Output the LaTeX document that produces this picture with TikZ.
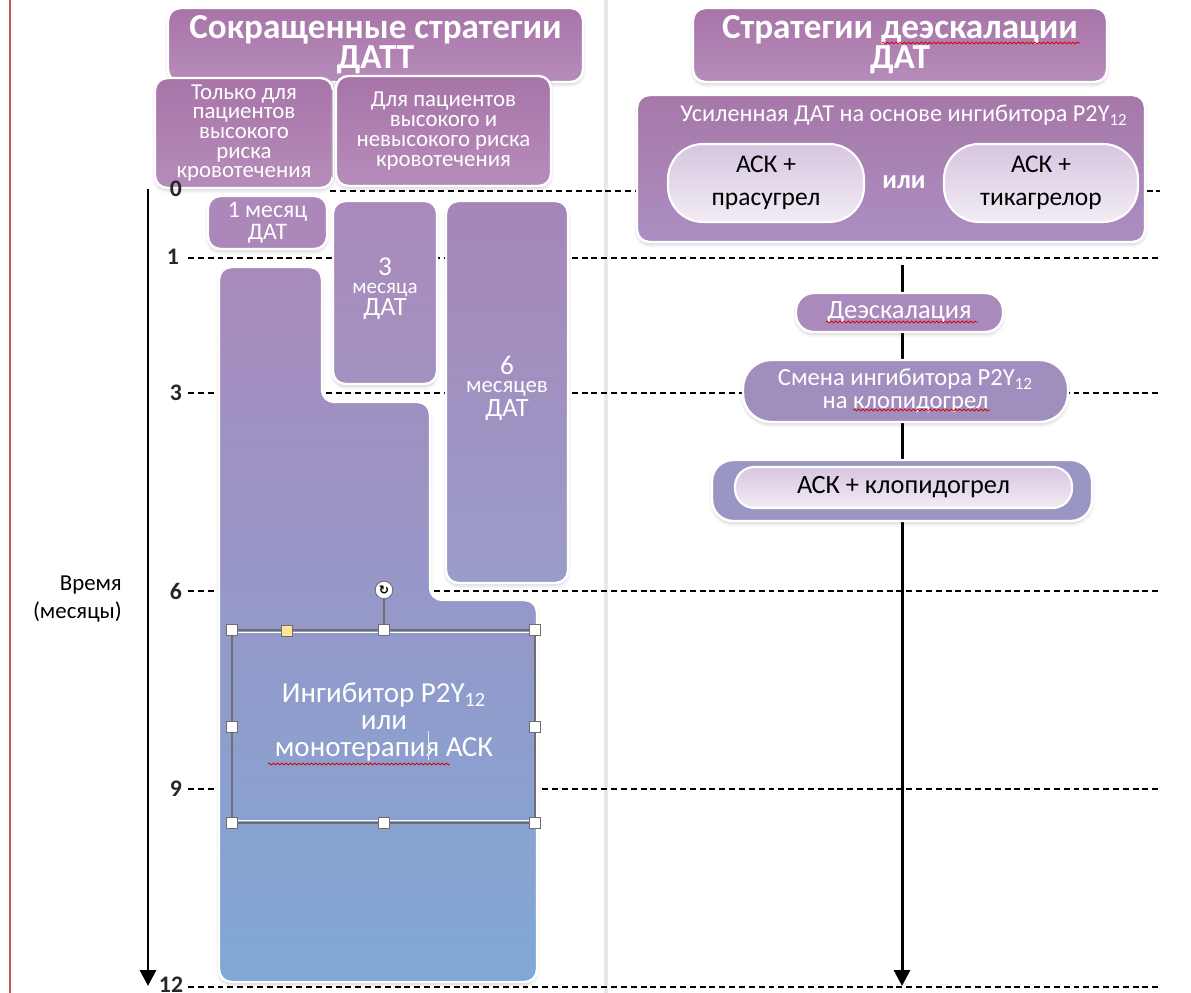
\documentclass[tikz,border=0pt]{standalone}
\usepackage{fontspec}
\setmainfont{Carlito}
\newfontfamily\dejavu{DejaVu Sans}
\usetikzlibrary{arrows.meta,shadows.blur,decorations.pathmorphing}
\definecolor{titA}{RGB}{168,116,168}
\definecolor{titB}{RGB}{182,140,186}
\definecolor{usA}{RGB}{166,120,168}
\definecolor{usB}{RGB}{172,142,194}
\definecolor{mOne}{RGB}{171,135,186}
\definecolor{mThrA}{RGB}{170,137,188}
\definecolor{mThrB}{RGB}{162,146,192}
\definecolor{mSixA}{RGB}{166,134,184}
\definecolor{mSixB}{RGB}{154,156,202}
\definecolor{stA}{RGB}{168,138,188}
\definecolor{stM}{RGB}{150,155,200}
\definecolor{stB}{RGB}{128,168,214}
\definecolor{deA}{RGB}{170,138,188}
\definecolor{smA}{RGB}{160,143,190}
\definecolor{klA}{RGB}{154,150,196}
\definecolor{pillA}{RGB}{214,198,224}
\definecolor{pillB}{RGB}{242,236,244}
\definecolor{edgeRed}{RGB}{196,88,88}
\definecolor{sepGray}{RGB}{232,232,232}
\definecolor{selGray}{RGB}{110,110,110}
\definecolor{yelH}{RGB}{255,228,150}
\begin{document}
\begin{tikzpicture}[x=0.02cm,y=-0.02cm,
  box/.style={draw=white, line width=1.4pt, rounded corners=7pt, text=white,
    align=center, inner sep=0pt,
    blur shadow={shadow xshift=0pt, shadow yshift=-1.5pt, shadow opacity=18, shadow blur steps=6}},
  pill/.style={draw=white, line width=1.2pt, rounded corners=20pt, text=black,
    align=center, inner sep=0pt, top color=pillA, bottom color=pillB},
  grid/.style={dashed, dash pattern=on 3.4pt off 2.2pt, line width=1pt, black},
  tick/.style={font=\fontsize{13.5pt}{13.5pt}\selectfont\bfseries, text=black!85},
  wtxt/.style={text=white, inner sep=0pt},
  handle/.style={draw=selGray, fill=white, line width=0.5pt, minimum size=6.5pt, inner sep=0pt},
  squig/.style={red!85!black, line width=0.45pt, decorate,
    decoration={snake, segment length=2.4pt, amplitude=0.55pt}},
  axis/.style={line width=1.7pt, -{Triangle[width=9pt,length=9pt]}}
]
\useasboundingbox (0,0) rectangle (1191,993);

% page edge and separator
\draw[edgeRed, line width=1.1pt] (10,0) -- (10,993);
\draw[sepGray, line width=2.6pt] (606,0) -- (606,993);

% dashed month lines
\draw[grid] (330,191) -- (1160,191);
\draw[grid] (188,258) -- (1160,258);
\draw[grid] (188,393) -- (1160,393);
\draw[grid] (188,591) -- (1160,591);
\draw[grid] (188,789) -- (1160,789);
\draw[grid] (188,987) -- (1160,987);

% time axis
\coordinate (axTop) at (148,189);
\coordinate (axBot) at (148,986);
\draw[axis] (axTop) -- (axBot);
\node[align=right, anchor=east, font=\fontsize{13pt}{16pt}\selectfont] (time) at (128,599) {Время\\(месяцы)};

% right timeline arrow
\coordinate (raTop) at (902,265);
\coordinate (raBot) at (902,986);
\draw[axis] (raTop) -- (raBot);

% titles
\node[box, top color=titA, bottom color=titB, minimum width=415*0.02cm, minimum height=74*0.02cm,
  font=\fontsize{20pt}{17pt}\selectfont\bfseries] (tit1) at (375.5,45) {Сокращенные стратегии\\ДАТТ};
\node[box, top color=titA, bottom color=titB, minimum width=178*0.02cm, minimum height=110*0.02cm,
  font=\fontsize{13pt}{11.2pt}\selectfont] (sub1) at (244,133) {Только для\\пациентов\\высокого\\риска\\кровотечения};
\node[box, top color=titA, bottom color=titB, minimum width=215*0.02cm, minimum height=110*0.02cm,
  font=\fontsize{13pt}{11.2pt}\selectfont] (sub2) at (443.5,131) {Для пациентов\\высокого и\\невысокого риска\\кровотечения};

\node[box, top color=titA, bottom color=titB, minimum width=414*0.02cm, minimum height=74*0.02cm,
  font=\fontsize{20pt}{17pt}\selectfont\bfseries] (tit2) at (900,45) {Стратегии деэскалации\\ДАТ};
\draw[squig] (882,43) -- (1080,43);

% enhanced DAT box
\node[box, top color=usA, bottom color=usB, minimum width=508*0.02cm, minimum height=147*0.02cm] (usil) at (891,168.5) {};
\node[text=white, font=\fontsize{13.8pt}{13pt}\selectfont] (ushead) at (904,115) {Усиленная ДАТ на основе ингибитора P2Y\textsubscript{12}};
\node[pill, minimum width=196*0.02cm, minimum height=78*0.02cm, font=\fontsize{14.5pt}{18.5pt}\selectfont] (pras) at (766,183) {АСК +\\прасугрел};
\node[pill, minimum width=194*0.02cm, minimum height=78*0.02cm, font=\fontsize{14.5pt}{18.5pt}\selectfont] (tika) at (1041,183) {АСК +\\тикагрелор};
\node[text=white, font=\fontsize{15pt}{15pt}\selectfont\bfseries] (ili) at (904,182) {или};

% staircase monotherapy shape
\path[draw=white, line width=1.4pt, rounded corners=7pt, top color=stA, middle color=stM, bottom color=stB,
  blur shadow={shadow xshift=0pt, shadow yshift=-1.5pt, shadow opacity=18, shadow blur steps=6}]
  (219,982) -- (219,267) -- (322,267) -- (322,402) -- (430,402) -- (430,600) -- (537,600) -- (537,982) -- cycle;

% DAT duration boxes
\node[box, fill=mOne, minimum width=119*0.02cm, minimum height=53*0.02cm,
  font=\fontsize{13.5pt}{12.3pt}\selectfont] (m1) at (267.5,222.5) {1 месяц\\ДАТ};
\node[box, top color=mThrA, bottom color=mThrB, minimum width=104*0.02cm, minimum height=183*0.02cm] (m3) at (385,292.5) {};
\node[wtxt, font=\fontsize{15.5pt}{15pt}\selectfont] (m3a) at (385,267) {3};
\node[wtxt, font=\fontsize{12pt}{12pt}\selectfont] (m3b) at (385,290) {месяца};
\node[wtxt, font=\fontsize{15pt}{15pt}\selectfont] (m3c) at (385,309) {ДАТ};
\node[box, top color=mSixA, bottom color=mSixB, minimum width=122*0.02cm, minimum height=382*0.02cm] (m6) at (507,392) {};
\node[wtxt, font=\fontsize{15.5pt}{15pt}\selectfont] (m6a) at (507,365) {6};
\node[wtxt, font=\fontsize{13pt}{13pt}\selectfont] (m6b) at (507,389) {месяцев};
\node[wtxt, font=\fontsize{15pt}{15pt}\selectfont] (m6c) at (507,410) {ДАТ};

% selection frame with handles
\draw[selGray, line width=0.7pt] (232,630) rectangle (535,823);
\draw[white, line width=0.6pt] (234,632.5) -- (533,632.5) (234,820.5) -- (533,820.5);
\node[text=white, align=center, font=\fontsize{16.5pt}{15.5pt}\selectfont] (sel) at (384,722)
  {Ингибитор P2Y\textsubscript{12}\\или\\монотерапия АСК};
\draw[squig] (268,764) -- (450,764);
\draw[white!85!gray, line width=0.4pt] (428,731) -- (428,760);
\node[draw=selGray, fill=white, circle, minimum size=10pt, inner sep=0pt, line width=0.5pt] (rot) at (384,590)
  {\dejavu\fontsize{7pt}{7pt}\selectfont\bfseries ↻};
\node[handle] (hTL) at (232,630) {};
\node[handle] (hTM) at (384,630) {};
\node[handle] (hTR) at (535,630) {};
\node[handle] (hML) at (232,727) {};
\node[handle] (hMR) at (535,727) {};
\node[handle] (hBL) at (232,823) {};
\node[handle] (hBM) at (384,823) {};
\node[handle] (hBR) at (535,823) {};
\node[handle, fill=yelH] (hY) at (287,631) {};
\draw[selGray, line width=0.6pt] (rot) -- (hTM);

% de-escalation column
\node[box, fill=deA, rounded corners=10pt, minimum width=207*0.02cm, minimum height=39*0.02cm,
  font=\fontsize{15pt}{15pt}\selectfont] (deesc) at (899.5,312.5) {Деэскалация};
\draw[squig] (826,322) -- (978,322);
\node[box, fill=smA, rounded corners=16pt, minimum width=325*0.02cm, minimum height=62*0.02cm,
  font=\fontsize{14pt}{13pt}\selectfont] (smena) at (905.5,391) {Смена ингибитора P2Y\textsubscript{12}\\на клопидогрел};
\draw[squig] (853,410) -- (990,410);
\node[box, fill=klA, rounded corners=12pt, minimum width=380*0.02cm, minimum height=61*0.02cm] (klout) at (902,490.5) {};
\node[pill, rounded corners=11pt, minimum width=337*0.02cm, minimum height=41*0.02cm,
  font=\fontsize{15pt}{15pt}\selectfont] (klin) at (903.5,487.5) {АСК + клопидогрел};

% tick labels (on top)
\node[tick] (t0) at (176,189) {0};
\node[tick] (t1) at (173,257) {1};
\node[tick] (t3) at (176,393) {3};
\node[tick] (t6) at (176,591) {6};
\node[tick] (t9) at (176,789) {9};
\node[tick] (t12) at (171,985) {12};
\end{tikzpicture}
\end{document}
